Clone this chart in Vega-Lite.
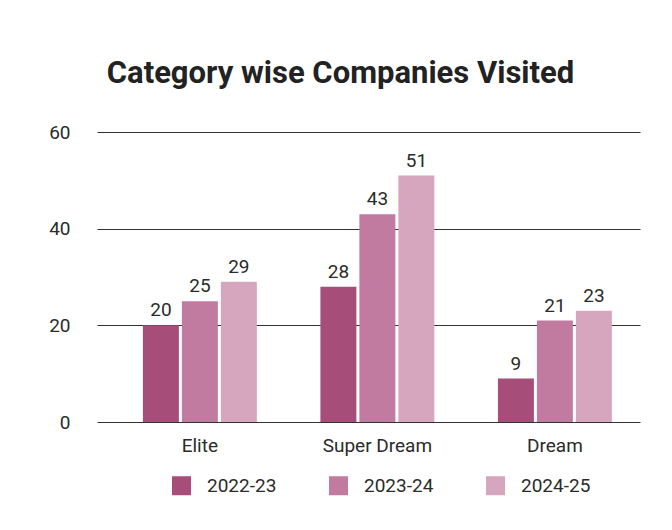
{
  "$schema": "https://vega.github.io/schema/vega-lite/v6.json",
  "width": 543,
  "height": 290,
  "autosize": "none",
  "padding": {"left": 97, "top": 132, "right": 32, "bottom": 108},
  "background": "white",
  "title": {
    "text": "Category wise Companies Visited",
    "font": "Roboto",
    "fontSize": 31,
    "fontWeight": "bold",
    "color": "#222222",
    "anchor": "middle",
    "frame": "group",
    "dx": -28,
    "offset": 33
  },
  "data": {
    "values": [
      {"category": "Elite", "year": "2022-23", "count": 20},
      {"category": "Elite", "year": "2023-24", "count": 25},
      {"category": "Elite", "year": "2024-25", "count": 29},
      {"category": "Super Dream", "year": "2022-23", "count": 28},
      {"category": "Super Dream", "year": "2023-24", "count": 43},
      {"category": "Super Dream", "year": "2024-25", "count": 51},
      {"category": "Dream", "year": "2022-23", "count": 9},
      {"category": "Dream", "year": "2023-24", "count": 21},
      {"category": "Dream", "year": "2024-25", "count": 23}
    ]
  },
  "encoding": {
    "x": {
      "field": "category",
      "type": "nominal",
      "sort": ["Elite", "Super Dream", "Dream"],
      "scale": {"paddingInner": 0.358, "paddingOuter": 0.2085, "align": 0.62},
      "axis": {
        "title": null,
        "labelAngle": 0,
        "domain": false,
        "ticks": false,
        "labelPadding": 14,
        "labelFont": "Roboto",
        "labelFontSize": 19,
        "labelColor": "#2b2b2b"
      }
    },
    "xOffset": {
      "field": "year",
      "type": "nominal",
      "scale": {"paddingInner": 0.077, "paddingOuter": 0}
    }
  },
  "layer": [
    {
      "mark": {"type": "bar"},
      "encoding": {
        "y": {
          "field": "count",
          "type": "quantitative",
          "scale": {"domain": [0, 60]},
          "axis": {
            "title": null,
            "values": [0, 20, 40, 60],
            "domain": false,
            "ticks": false,
            "grid": true,
            "gridColor": "#333333",
            "gridWidth": 1,
            "gridOpacity": 1,
            "labelPadding": 27,
            "labelFont": "Roboto",
            "labelFontSize": 19,
            "labelColor": "#2b2b2b"
          }
        },
        "color": {
          "field": "year",
          "type": "nominal",
          "scale": {
            "domain": ["2022-23", "2023-24", "2024-25"],
            "range": ["#a64d79", "#c27ba0", "#d5a6bd"]
          },
          "legend": {
            "title": null,
            "orient": "none",
            "legendX": 75,
            "legendY": 344,
            "direction": "horizontal",
            "symbolType": "square",
            "symbolSize": 361,
            "symbolStrokeWidth": 0,
            "labelFont": "Roboto",
            "labelFontSize": 19,
            "labelColor": "#2b2b2b",
            "labelOffset": 16,
            "columnPadding": 52
          }
        }
      }
    },
    {
      "mark": {"type": "rule", "color": "#444444", "strokeWidth": 2},
      "encoding": {"y": {"datum": 0, "type": "quantitative"}, "xOffset": null}
    },
    {
      "mark": {
        "type": "text",
        "baseline": "bottom",
        "dy": -5,
        "font": "Roboto",
        "fontSize": 19,
        "color": "#2b2b2b"
      },
      "encoding": {
        "y": {"field": "count", "type": "quantitative"},
        "text": {"field": "count", "type": "quantitative"}
      }
    }
  ],
  "config": {"view": {"stroke": null}}
}
